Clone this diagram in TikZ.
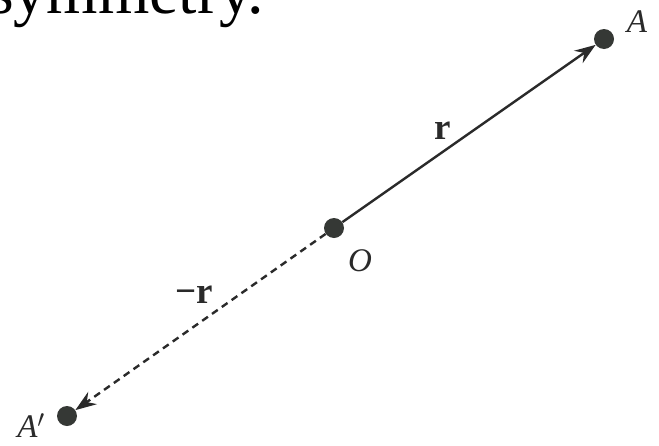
\documentclass[tikz,border=0pt]{standalone}
\usepackage{fontspec}
\setmainfont{Liberation Serif}
\usetikzlibrary{arrows.meta}
\definecolor{ink}{HTML}{2A2A2A}
\definecolor{dotc}{HTML}{353835}
\tikzset{
  pt/.style={circle, fill=dotc, draw=none, minimum size=20pt, inner sep=0pt},
  lbl/.style={anchor=base, inner sep=0pt, text=ink, font=\fontsize{33}{35}\selectfont\itshape},
  vlbl/.style={anchor=base, inner sep=0pt, text=ink, font=\fontsize{37}{39}\selectfont\bfseries},
  vec/.style={draw=ink, line width=2.4pt, -{Stealth[length=21pt, width=15pt, inset=7pt]}},
  negvec/.style={vec, dash pattern=on 7pt off 5pt}
}
\begin{document}
\begin{tikzpicture}[x=1pt, y=-1pt]
  \clip (0,0) rectangle (659,445);
  \fill[white] (0,0) rectangle (659,445);
  \node[anchor=base west, inner sep=0pt, font=\fontsize{66}{70}\selectfont] (title) at (-12,13) {symmetry.};
  \node[pt] (A) at (604,39) {};
  \node[pt] (O) at (334,228) {};
  \node[pt] (Ap) at (67,416) {};
  \draw[vec] (O) -- (A);
  \draw[negvec] (O) -- (Ap);
  \node[lbl] (lA) at (637,32) {A};
  \node[lbl] (lO) at (360,271) {O};
  \node[lbl] (lAp) at (31,437) {A$'$};
  \node[vlbl] (lr) at (443,139) {r};
  \node[vlbl] (lnr) at (194,303) {−r};
\end{tikzpicture}
\end{document}
